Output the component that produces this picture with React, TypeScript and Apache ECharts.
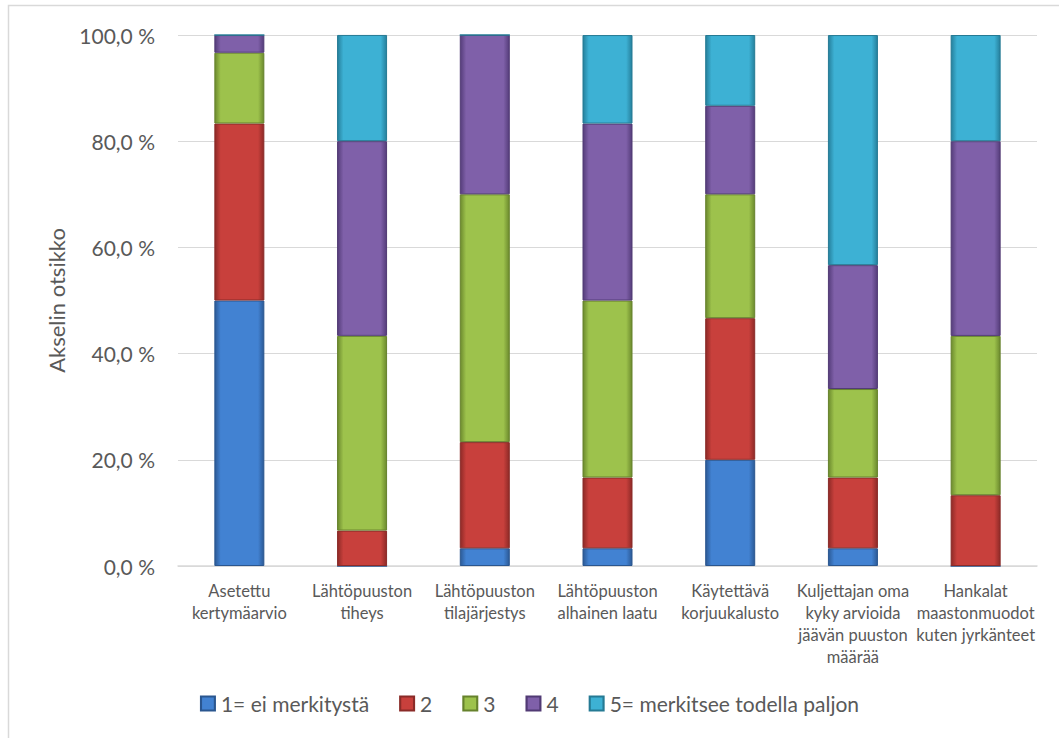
import React, { useEffect, useRef } from "react";
import * as echarts from "echarts";

const categories = [
  "Asetettu\nkertymäarvio",
  "Lähtöpuuston\ntiheys",
  "Lähtöpuuston\ntilajärjestys",
  "Lähtöpuuston\nalhainen laatu",
  "Käytettävä\nkorjuukalusto",
  "Kuljettajan oma\nkyky arvioida\njäävän puuston\nmäärää",
  "Hankalat\nmaastonmuodot\nkuten jyrkänteet",
];

const seriesNames = ["1= ei merkitystä", "2", "3", "4", "5= merkitsee todella paljon"];

const s1 = [50.0, 0, 3.33, 3.33, 20.0, 3.33, 0];
const s2 = [33.33, 6.67, 20.0, 13.33, 26.67, 13.33, 13.33];
const s3 = [13.33, 36.67, 46.67, 33.33, 23.33, 16.67, 30.0];
const s4 = [3.33, 36.67, 30.0, 33.33, 16.67, 23.33, 36.67];
const s5 = [0, 20.0, 0, 16.67, 13.33, 43.33, 20.0];

const yTicks = [0, 20, 40, 60, 80, 100];

const palette = [
  { base: "#4282d2", edge: "#2c5a96", border: "#2a568f" },
  { base: "#c8403c", edge: "#8e2a27", border: "#8a2b28" },
  { base: "#9dc24c", edge: "#6c8a2e", border: "#66822c" },
  { base: "#7f60a9", edge: "#553d7a", border: "#513a74" },
  { base: "#3db1d4", edge: "#26809c", border: "#257a94" },
];

const FONT = "Lato, 'Open Sans', sans-serif";

export default function App() {
  const ref = useRef<HTMLDivElement>(null);
  useEffect(() => {
    if (!ref.current) return;
    const chart = echarts.init(ref.current, undefined, { renderer: "svg" });
    const all = [s1, s2, s3, s4, s5];
    chart.setOption({
      animation: false,
      backgroundColor: "#ffffff",
      textStyle: { fontFamily: FONT },
      graphic: [
        {
          type: "rect",
          shape: { x: 8.5, y: 5.5, width: 1060, height: 740 },
          style: { fill: "none", stroke: "#d9d9d9", lineWidth: 1.5 },
          silent: true,
        },
      ],
      grid: { left: 178, right: 22, top: 35, bottom: 172 },
      legend: {
        bottom: 19,
        left: "center",
        itemWidth: 14,
        itemHeight: 14,
        itemGap: 30,
        icon: "rect",
        textStyle: { fontSize: 21, color: "#595959", fontFamily: FONT, padding: [0, 0, 0, 1] },
        data: seriesNames,
      },
      xAxis: {
        type: "category",
        data: categories,
        axisLine: { lineStyle: { color: "#d9d9d9", width: 1.5 } },
        axisTick: { show: false },
        axisLabel: {
          color: "#595959",
          fontSize: 16.5,
          lineHeight: 22,
          margin: 14,
          interval: 0,
          fontFamily: FONT,
        },
      },
      yAxis: {
        type: "value",
        min: 0,
        max: 100,
        interval: 20,
        name: "Akselin otsikko",
        nameLocation: "middle",
        nameRotate: 90,
        nameGap: 111,
        nameTextStyle: { color: "#595959", fontSize: 22, fontFamily: FONT },
        axisLine: { show: false },
        axisTick: { show: false },
        splitLine: { lineStyle: { color: "#d9d9d9", width: 1 } },
        axisLabel: {
          color: "#595959",
          fontSize: 21,
          margin: 23,
          fontFamily: FONT,
          formatter: (v: number) =>
            yTicks.includes(v) ? v.toFixed(1).replace(".", ",") + " %" : "",
        },
      },
      series: all.map((d, i) => ({
        name: seriesNames[i],
        type: "bar",
        stack: "total",
        barWidth: 50,
        data: d,
        itemStyle: {
          color: new echarts.graphic.LinearGradient(0, 0, 1, 0, [
            { offset: 0, color: palette[i].edge },
            { offset: 0.12, color: palette[i].base },
            { offset: 0.88, color: palette[i].base },
            { offset: 1, color: palette[i].edge },
          ]),
          borderColor: palette[i].border,
          borderWidth: 1,
        },
      })),
    });
    return () => chart.dispose();
  }, []);
  return (
    <div
      ref={ref}
      style={{ position: "absolute", left: 0, top: 0, width: 1059, height: 738 }}
    />
  );
}
